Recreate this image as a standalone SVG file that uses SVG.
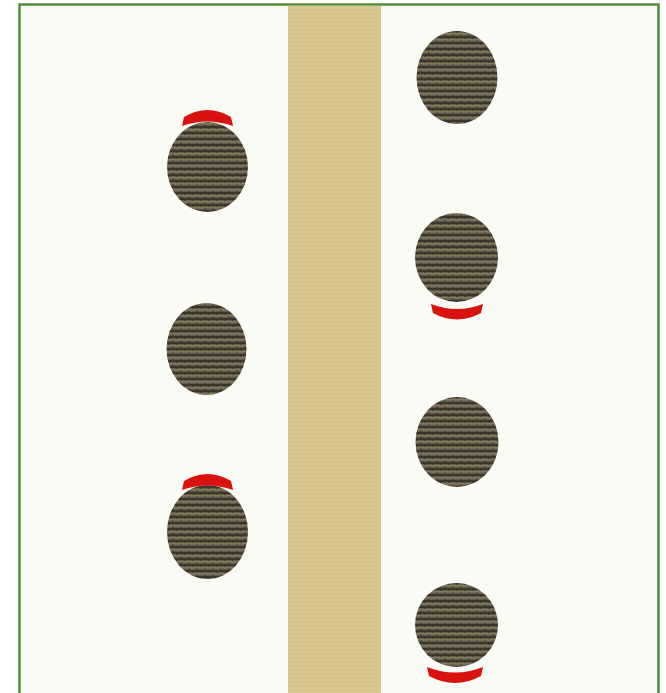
<svg xmlns="http://www.w3.org/2000/svg" width="666" height="693" viewBox="0 0 666 693">
<defs>
<pattern id="weave" width="8" height="6" patternUnits="userSpaceOnUse">
<rect width="8" height="6" fill="#635c47"/>
<rect y="0" width="8" height="2" fill="#3b362b"/>
<rect y="3" width="8" height="1.5" fill="#827a5e"/>
<rect x="0" y="2" width="2" height="1" fill="#4a4537"/>
<rect x="4" y="4.5" width="2" height="1.5" fill="#4c473c"/>
</pattern>
<pattern id="sand" width="6" height="4" patternUnits="userSpaceOnUse">
<rect width="6" height="4" fill="#d9c690"/>
<rect y="2" width="6" height="1" fill="#d3bf8a"/>
</pattern>
</defs>
<style>
.seat{fill:url(#weave);}
.arc{fill:#d8120e;}
</style>
<rect x="0" y="0" width="666" height="693" fill="#ffffff"/>
<rect id="frame" x="19.5" y="4.5" width="639" height="700" fill="#fbfbf6" stroke="#4f8e36" stroke-width="2.5"/>
<rect id="aisle" x="288" y="5.8" width="93" height="688" fill="url(#sand)"/>
<g id="connectors"></g>
<g id="seat-l1"><ellipse class="seat" cx="207.5" cy="167" rx="40.5" ry="45"/>
<path class="arc" d="M182,126 L184,117 Q207.5,103 231,117 L233,126 Q207.5,117 182,126 Z"/></g>
<g id="seat-l2"><ellipse class="seat" cx="206.5" cy="349" rx="40" ry="46"/></g>
<g id="seat-l3"><ellipse class="seat" cx="207.5" cy="532" rx="40.5" ry="47"/>
<path class="arc" d="M182,490 L184,481 Q207.5,467 231,481 L233,490 Q207.5,481 182,490 Z"/></g>
<g id="seat-r1"><ellipse class="seat" cx="457" cy="77.5" rx="40.5" ry="46.5"/></g>
<g id="seat-r2"><ellipse class="seat" cx="456.5" cy="257.5" rx="41.5" ry="44.5"/>
<path class="arc" d="M431,304 L433,313 Q457,326 481,313 L483,304 Q457,314 431,304 Z"/></g>
<g id="seat-r3"><ellipse class="seat" cx="457" cy="442" rx="41.5" ry="45"/></g>
<g id="seat-r4"><ellipse class="seat" cx="456.5" cy="625" rx="41.5" ry="42"/>
<path class="arc" d="M427,667 L429,676 Q455,690 481,676 L483,667 Q455,678 427,667 Z"/></g>
</svg>
